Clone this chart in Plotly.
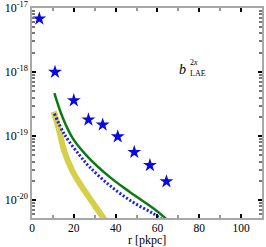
import plotly.graph_objects as go

# Stars (data points)
star_r = [3.5, 11, 20, 27, 33.8, 41, 48.9, 56.4, 64.3]
star_b = [6.8e-18, 1.0e-18, 3.6e-19, 1.8e-19, 1.5e-19, 9.8e-20, 5.6e-20, 3.5e-20, 1.95e-20]

# Green solid model
green_r = [10.7, 14.8, 19.6, 26.0, 37.1, 46.6, 59.4, 65.0]
green_b = [4.7e-19, 1.9e-19, 9.1e-20, 5.0e-20, 2.3e-20, 1.35e-20, 6.9e-21, 4.8e-21]

# Blue dotted model
blue_r = [10.7, 15.6, 22.8, 27.5, 37.1, 48.2, 57.8, 64.0]
blue_b = [2.24e-19, 1.05e-19, 5.0e-20, 3.3e-20, 1.7e-20, 9.3e-21, 6.2e-21, 4.5e-21]

# Yellow thick model
yellow_r = [10.4, 12.5, 15.6, 19.0, 22.8, 29.9, 35.0]
yellow_b = [2.4e-19, 1.41e-19, 5.6e-20, 3.0e-20, 1.82e-20, 8.3e-21, 4.8e-21]

x_ticks = [0, 20, 40, 60, 80, 100]
x_minor = [10, 30, 50, 70, 90, 110]
y_ticks = [1e-20, 1e-19, 1e-18, 1e-17]
y_ticklabels = ["10<sup>-20</sup>", "10<sup>-19</sup>", "10<sup>-18</sup>", "10<sup>-17</sup>"]
y_minor = [k * 10.0 ** e for e in (-21, -20, -19, -18) for k in range(2, 10)]

FONT = "Liberation Serif"

fig = go.Figure()
fig.add_trace(go.Scatter(x=yellow_r, y=yellow_b, mode="lines", line=dict(color="#d5d04a", width=6, shape="spline"), hoverinfo="skip"))
fig.add_trace(go.Scatter(x=blue_r, y=blue_b, mode="lines", line=dict(color="#1a1aff", width=3, dash="2px,2px", shape="spline"), hoverinfo="skip"))
fig.add_trace(go.Scatter(x=green_r, y=green_b, mode="lines", line=dict(color="#0b7a12", width=2.5, shape="spline"), hoverinfo="skip"))
fig.add_trace(go.Scatter(x=star_r, y=star_b, mode="markers", marker=dict(symbol="star", size=10.5, color="#0a0ae0", line=dict(width=0))))

fig.update_layout(
    width=266, height=247,
    margin=dict(l=32, r=4, t=8, b=29),
    paper_bgcolor="white", plot_bgcolor="white",
    showlegend=False,
    font=dict(family=FONT, size=12, color="black"),
)
fig.update_xaxes(
    range=[0, 110], tickmode="array", tickvals=x_ticks, ticks="inside", ticklen=4, tickwidth=1.5, tickcolor="black",
    showline=True, linecolor="#a8a8a8", linewidth=1.5, mirror="allticks", showgrid=False, zeroline=False,
    minor=dict(ticks="inside", ticklen=3, tickcolor="#999999", tickmode="array", tickvals=x_minor, showgrid=False),
    tickfont=dict(family=FONT, size=11.5), automargin=False, ticklabelstandoff=-2,
)
fig.update_yaxes(
    type="log", range=[-20.28, -17], tickmode="array", tickvals=y_ticks, ticktext=y_ticklabels,
    ticks="inside", ticklen=4, tickwidth=2, tickcolor="black",
    showline=True, linecolor="#a8a8a8", linewidth=1.5, mirror="allticks", showgrid=False, zeroline=False,
    minor=dict(ticks="inside", ticklen=3, tickcolor="#777777", tickmode="array", tickvals=y_minor, showgrid=False),
    tickfont=dict(family=FONT, size=12), automargin=False,
)

# x-axis title placed as annotation for tight spacing
fig.add_annotation(x=0.5, y=-0.104, xref="paper", yref="paper", text="r [pkpc]", showarrow=False,
                   font=dict(family=FONT, size=12), xanchor="center", yanchor="middle")

# annotation b^{2x}_{LAE}
fig.add_annotation(x=0.68, y=0.706, xref="paper", yref="paper", text="<i>b</i>", showarrow=False,
                   font=dict(family=FONT, size=14), xanchor="right", yanchor="middle")
fig.add_annotation(x=0.68, y=0.741, xref="paper", yref="paper", text="2<i>x</i>", showarrow=False,
                   font=dict(family=FONT, size=8), xanchor="left", yanchor="middle")
fig.add_annotation(x=0.68, y=0.686, xref="paper", yref="paper", text="LAE", showarrow=False,
                   font=dict(family=FONT, size=8), xanchor="left", yanchor="middle")

fig.write_html("out.html", config={"displayModeBar": False},
               post_script="document.body.style.margin='0';")
